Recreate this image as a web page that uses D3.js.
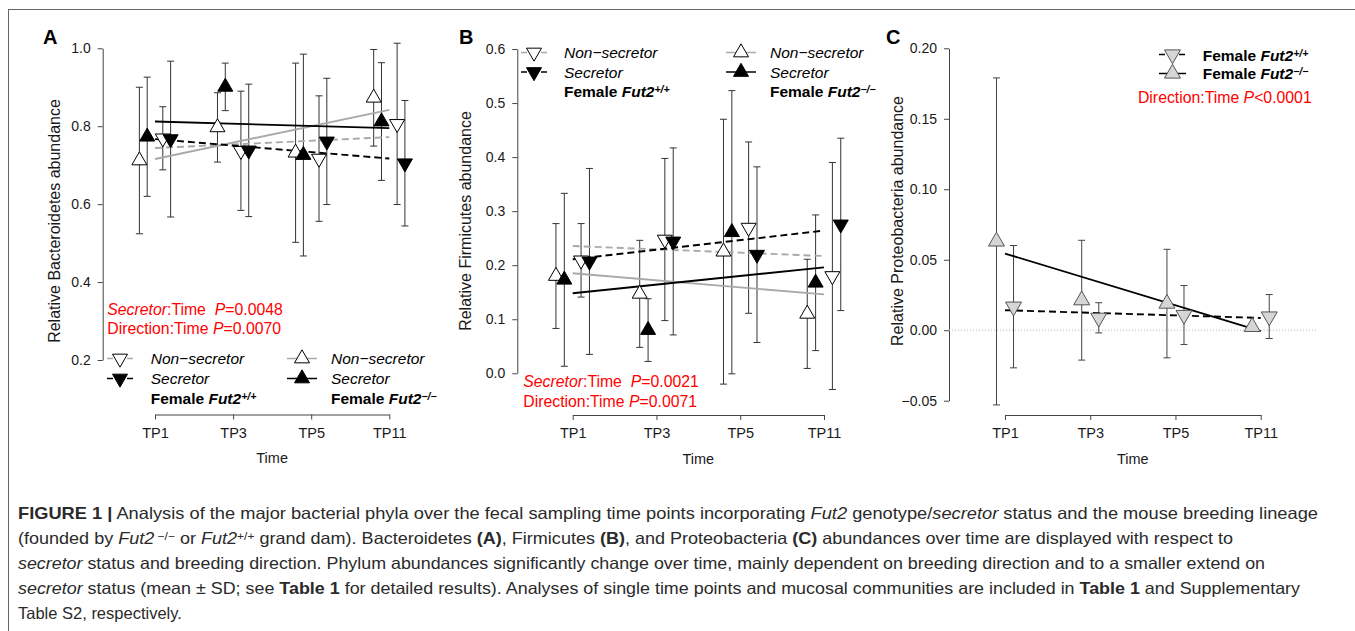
<!DOCTYPE html>
<html><head><meta charset="utf-8">
<script src="https://cdn.jsdelivr.net/npm/d3@7"></script>
<style>
body{margin:0;background:#fff}
svg{display:block}
text{font-family:"Liberation Sans",Arial,Helvetica,sans-serif;white-space:pre}
</style>
</head><body>
<svg id="chart" width="1355" height="631"></svg>
<script>
// ---------------- DATA ----------------
const timePoints = ["TP1", "TP3", "TP5", "TP11"];

// Panel A – Bacteroidetes (mean, SD)
const bactTicks = [0.2, 0.4, 0.6, 0.8, 1.0];
const bactNonSecWT_mean = [0.769, 0.737, 0.717, 0.806];
const bactNonSecWT_sd   = [0.081, 0.153, 0.161, 0.207];
const bactSecWT_mean    = [0.767, 0.738, 0.761, 0.705];
const bactSecWT_sd      = [0.200, 0.170, 0.162, 0.161];
const bactNonSecKO_mean = [0.712, 0.797, 0.732, 0.873];
const bactNonSecKO_sd   = [0.188, 0.089, 0.230, 0.124];
const bactSecKO_mean    = [0.773, 0.901, 0.726, 0.812];
const bactSecKO_sd      = [0.153, 0.061, 0.259, 0.151];
// fitted trends: value at TP1, value at TP11
const bactFitNonSecWT = [0.744, 0.772];
const bactFitSecWT    = [0.767, 0.717];
const bactFitNonSecKO = [0.716, 0.842];
const bactFitSecKO    = [0.812, 0.795];

// Panel B – Firmicutes
const firmTicks = [0.0, 0.1, 0.2, 0.3, 0.4, 0.5, 0.6];
const firmNonSecWT_mean = [0.209, 0.2475, 0.2695, 0.180];
const firmNonSecWT_sd   = [0.068, 0.150, 0.1585, 0.210];
const firmSecWT_mean    = [0.207, 0.244, 0.2195, 0.2755];
const firmSecWT_sd      = [0.172, 0.173, 0.1625, 0.1595];
const firmNonSecKO_mean = [0.180, 0.147, 0.225, 0.110];
const firmNonSecKO_sd   = [0.097, 0.099, 0.245, 0.101];
const firmSecKO_mean    = [0.173, 0.080, 0.261, 0.1675];
const firmSecKO_sd      = [0.160, 0.058, 0.262, 0.1255];
const firmFitNonSecWT = [0.2355, 0.217];
const firmFitSecWT    = [0.211, 0.264];
const firmFitNonSecKO = [0.185, 0.146];
const firmFitSecKO    = [0.148, 0.196];

// Panel C – Proteobacteria
const protTicks = [-0.05, 0.00, 0.05, 0.10, 0.15, 0.20];
const protWT_mean = [0.0167, 0.0088, 0.0108, 0.0097];
const protWT_sd   = [0.0434, 0.0107, 0.0209, 0.0156];
const protKO_mean = [0.0630, 0.0213, 0.0189, 0.0024];
const protKO_sd   = [0.1160, 0.0425, 0.0385, 0.0];
const protFitWT = [0.0142, 0.0087];
const protFitKO = [0.0544, -0.0007];

// ---------------- DRAWING ----------------
const svg = d3.select("#chart");
const RED = "#ff0000";
const GRAY_LINE = "#a9a9a9";

// frame
svg.append("rect").attr("x", 8.5).attr("y", 9.5).attr("width", 1400).attr("height", 700)
  .attr("fill", "none").attr("stroke", "#666").attr("stroke-width", 1);

function triPath(width) {
  return d3.symbol(d3.symbolTriangle, Math.sqrt(3) * width * width / 4)();
}

function addRichText(sel, parts) {
  parts.forEach(p => {
    const t = sel.append("tspan").text(p.t);
    if (p.i) t.attr("font-style", "italic");
    if (p.b) t.attr("font-weight", "bold");
    if (p.sup) t.attr("baseline-shift", p.supShift || "40%").attr("font-size", p.sup);
  });
  return sel;
}

function drawPanel(cfg) {
  const g = svg.append("g");
  const x = d3.scalePoint().domain(timePoints).range([cfg.x0, cfg.x1]);
  const step = x.step();
  const y = d3.scaleLinear().domain(cfg.yDomain).range([cfg.yBottom, cfg.yTop]);

  // y axis
  const ya = g.append("g").attr("transform", `translate(${cfg.axisX},0)`)
    .call(d3.axisLeft(y).tickValues(cfg.ticks).tickFormat(d3.format(cfg.fmt))
      .tickSize(5).tickSizeOuter(0).tickPadding(7));
  ya.attr("font-family", null).attr("font-size", null);
  ya.selectAll("text").attr("font-size", 14).attr("fill", "#1a1a1a");
  ya.selectAll("path,line").attr("stroke", "#444");

  // x axis
  const xa = g.append("g").attr("transform", `translate(0,${cfg.axisY})`)
    .call(d3.axisBottom(x).tickSize(5).tickSizeOuter(0).tickPadding(8));
  xa.attr("font-family", null).attr("font-size", null);
  xa.selectAll("text").attr("font-size", 14.5).attr("fill", "#1a1a1a");
  xa.selectAll("path,line").attr("stroke", "#444");

  // axis titles
  g.append("text").attr("x", (cfg.x0 + cfg.x1) / 2).attr("y", cfg.axisY + 48.5)
    .attr("text-anchor", "middle").attr("font-size", 14.5).attr("fill", "#1a1a1a").text("Time");
  g.append("text").attr("transform", `translate(${cfg.ylabX},221) rotate(-90)`)
    .attr("text-anchor", "middle").attr("font-size", 16).attr("fill", "#1a1a1a").text(cfg.ylab);

  // panel letter
  g.append("text").attr("x", cfg.letterX).attr("y", 43.5).attr("font-size", 20)
    .attr("font-weight", "bold").attr("fill", "#000").text(cfg.letter);

  // zero reference line
  if (cfg.zeroLine) {
    g.append("line").attr("x1", cfg.axisX).attr("x2", cfg.zeroLineEnd)
      .attr("y1", y(0)).attr("y2", y(0))
      .attr("stroke", "#bbb").attr("stroke-width", 1).attr("stroke-dasharray", "1,2");
  }

  // error bars
  cfg.series.forEach(s => {
    s.mean.forEach((m, i) => {
      const sd = s.sd[i];
      if (sd <= 0) return;
      const cx = x(timePoints[i]) + s.off * step;
      const yt = y(m + sd), yb = y(m - sd);
      const eg = g.append("g").attr("stroke", cfg.errColor).attr("stroke-width", 1);
      eg.append("line").attr("x1", cx).attr("x2", cx).attr("y1", yt).attr("y2", yb);
      eg.append("line").attr("x1", cx - 3.5).attr("x2", cx + 3.5).attr("y1", yt).attr("y2", yt);
      eg.append("line").attr("x1", cx - 3.5).attr("x2", cx + 3.5).attr("y1", yb).attr("y2", yb);
    });
  });

  // fitted trend lines
  cfg.series.forEach(s => {
    g.append("line")
      .attr("x1", x(timePoints[0])).attr("x2", x(timePoints[timePoints.length - 1]))
      .attr("y1", y(s.fit[0])).attr("y2", y(s.fit[1]))
      .attr("stroke", s.lineColor).attr("stroke-width", 1.9)
      .attr("stroke-dasharray", s.dash ? "7,4" : null);
  });

  // markers
  cfg.series.forEach(s => {
    s.mean.forEach((m, i) => {
      const cx = x(timePoints[i]) + s.off * step;
      g.append("path").attr("d", triPath(cfg.markerW))
        .attr("transform", `translate(${cx},${y(m)})${s.down ? " rotate(180)" : ""}`)
        .attr("fill", s.fill).attr("stroke", s.stroke).attr("stroke-width", 1);
    });
  });
  return g;
}

function legendItem(g, xa, xb, yc, s, w) {
  g.append("line").attr("x1", xa).attr("x2", xb).attr("y1", yc).attr("y2", yc)
    .attr("stroke", s.lineColor).attr("stroke-width", 1.5)
    .attr("stroke-dasharray", s.dash ? "6,4" : null);
  g.append("path").attr("d", triPath(w))
    .attr("transform", `translate(${(xa + xb) / 2},${yc})${s.down ? " rotate(180)" : ""}`)
    .attr("fill", s.fill).attr("stroke", s.stroke).attr("stroke-width", 1);
}

function legendText(g, x, yb, parts, size, anchor) {
  const t = g.append("text").attr("x", x).attr("y", yb).attr("font-size", size)
    .attr("fill", "#000").attr("text-anchor", anchor || "start");
  addRichText(t, parts);
  return t;
}

// series style definitions
const sNonSecWT = { down: true, fill: "#fff", stroke: "#000", lineColor: GRAY_LINE, dash: true, off: 0.1 };
const sSecWT    = { down: true, fill: "#000", stroke: "#000", lineColor: "#000", dash: true, off: 0.2 };
const sNonSecKO = { down: false, fill: "#fff", stroke: "#000", lineColor: GRAY_LINE, dash: false, off: -0.2 };
const sSecKO    = { down: false, fill: "#000", stroke: "#000", lineColor: "#000", dash: false, off: -0.1 };

// ---- Panel A ----
const gA = drawPanel({
  letter: "A", letterX: 43, x0: 155, x1: 389.3, axisX: 102.7, axisY: 414.5,
  yDomain: [0.2, 1.0], yBottom: 360, yTop: 48.3, ticks: bactTicks, fmt: ".1f",
  ylab: "Relative Bacteroidetes abundance", ylabX: 59.5, errColor: "#333", markerW: 15,
  series: [
    Object.assign({ mean: bactNonSecKO_mean, sd: bactNonSecKO_sd, fit: bactFitNonSecKO }, sNonSecKO),
    Object.assign({ mean: bactSecKO_mean, sd: bactSecKO_sd, fit: bactFitSecKO }, sSecKO),
    Object.assign({ mean: bactNonSecWT_mean, sd: bactNonSecWT_sd, fit: bactFitNonSecWT }, sNonSecWT),
    Object.assign({ mean: bactSecWT_mean, sd: bactSecWT_sd, fit: bactFitSecWT }, sSecWT)
  ]
});

// ---- Panel B ----
const gB = drawPanel({
  letter: "B", letterX: 459, x0: 572.7, x1: 824, axisX: 517.3, axisY: 415,
  yDomain: [0, 0.6], yBottom: 373.3, yTop: 49, ticks: firmTicks, fmt: ".1f",
  ylab: "Relative Firmicutes abundance", ylabX: 471, errColor: "#333", markerW: 15,
  series: [
    Object.assign({ mean: firmNonSecKO_mean, sd: firmNonSecKO_sd, fit: firmFitNonSecKO }, sNonSecKO),
    Object.assign({ mean: firmSecKO_mean, sd: firmSecKO_sd, fit: firmFitSecKO }, sSecKO),
    Object.assign({ mean: firmNonSecWT_mean, sd: firmNonSecWT_sd, fit: firmFitNonSecWT }, sNonSecWT),
    Object.assign({ mean: firmSecWT_mean, sd: firmSecWT_sd, fit: firmFitSecWT }, sSecWT)
  ]
});

// ---- Panel C ----
const sProtWT = { down: true, fill: "#d6d6d6", stroke: "#555", lineColor: "#000", dash: true, off: 0.1 };
const sProtKO = { down: false, fill: "#d6d6d6", stroke: "#555", lineColor: "#000", dash: false, off: -0.1 };
const gC = drawPanel({
  letter: "C", letterX: 886, x0: 1005, x1: 1260.7, axisX: 949, axisY: 415,
  yDomain: [-0.05, 0.20], yBottom: 400.7, yTop: 48.3, ticks: protTicks, fmt: ".2f",
  ylab: "Relative Proteobacteria abundance", ylabX: 903, errColor: "#444", markerW: 16,
  zeroLine: true, zeroLineEnd: 1317,
  series: [
    Object.assign({ mean: protKO_mean, sd: protKO_sd, fit: protFitKO }, sProtKO),
    Object.assign({ mean: protWT_mean, sd: protWT_sd, fit: protFitWT }, sProtWT)
  ]
});

// ---- Legends ----
const LEG = 15.5, REDS = 15.8;
const femWT = [{ t: "Female ", b: 1 }, { t: "Fut2", b: 1, i: 1 }, { t: "+/+", b: 1, i: 1, sup: 10.5 }];
const femKO = [{ t: "Female ", b: 1 }, { t: "Fut2", b: 1, i: 1 }, { t: "\u2212/\u2212", b: 1, i: 1, sup: 10.5 }];

// A legend
legendItem(gA, 107, 133, 358.5, sNonSecWT, 15);
legendItem(gA, 107, 133, 378.5, sSecWT, 15);
legendText(gA, 150.7, 364, [{ t: "Non\u2212secretor", i: 1 }], LEG);
legendText(gA, 150.7, 384, [{ t: "Secretor", i: 1 }], LEG);
legendText(gA, 150.7, 403.5, femWT, LEG);
legendItem(gA, 287, 317, 358.5, sNonSecKO, 15);
legendItem(gA, 287, 317, 378.5, sSecKO, 15);
legendText(gA, 331, 364, [{ t: "Non\u2212secretor", i: 1 }], LEG);
legendText(gA, 331, 384, [{ t: "Secretor", i: 1 }], LEG);
legendText(gA, 331, 403.5, femKO, LEG);
legendText(gA, 107.3, 315, [{ t: "Secretor", i: 1 }, { t: ":Time  " }, { t: "P", i: 1 }, { t: "=0.0048" }], REDS).attr("fill", RED);
legendText(gA, 107.3, 334, [{ t: "Direction:Time " }, { t: "P", i: 1 }, { t: "=0.0070" }], REDS).attr("fill", RED);

// B legend
legendItem(gB, 521, 547, 52.5, sNonSecWT, 15);
legendItem(gB, 521, 547, 72, sSecWT, 15);
legendText(gB, 564, 58.3, [{ t: "Non\u2212secretor", i: 1 }], LEG);
legendText(gB, 564, 77.5, [{ t: "Secretor", i: 1 }], LEG);
legendText(gB, 564, 97.3, femWT, LEG);
legendItem(gB, 726, 756, 52.5, sNonSecKO, 15);
legendItem(gB, 726, 756, 72, sSecKO, 15);
legendText(gB, 770, 58.3, [{ t: "Non\u2212secretor", i: 1 }], LEG);
legendText(gB, 770, 77.5, [{ t: "Secretor", i: 1 }], LEG);
legendText(gB, 770, 97.3, femKO, LEG);
legendText(gB, 523.3, 386.7, [{ t: "Secretor", i: 1 }, { t: ":Time  " }, { t: "P", i: 1 }, { t: "=0.0021" }], REDS).attr("fill", RED);
legendText(gB, 523.3, 406.7, [{ t: "Direction:Time " }, { t: "P", i: 1 }, { t: "=0.0071" }], REDS).attr("fill", RED);

// C legend
legendItem(gC, 1159, 1186, 54.5, sProtWT, 16);
legendItem(gC, 1159, 1186, 73.5, sProtKO, 16);
legendText(gC, 1202.7, 60.7, femWT, LEG);
legendText(gC, 1202.7, 79.3, femKO, LEG);
legendText(gC, 1311.7, 102.5, [{ t: "Direction:Time " }, { t: "P", i: 1 }, { t: "<0.0001" }], REDS, "end").attr("fill", RED);

// ---- Caption ----
const captionLines = [
  { y: 518.5, w: 1300, parts: [{ t: "FIGURE 1 |", b: 1 }, { t: " Analysis of the major bacterial phyla over the fecal sampling time points incorporating " }, { t: "Fut2", i: 1 }, { t: " genotype/" }, { t: "secretor", i: 1 }, { t: " status and the mouse breeding lineage" }] },
  { y: 543.5, w: 1215, parts: [{ t: "(founded by " }, { t: "Fut2", i: 1 }, { t: " \u2212/\u2212", sup: 11 }, { t: " or " }, { t: "Fut2", i: 1 }, { t: "+/+", sup: 11 }, { t: " grand dam). Bacteroidetes " }, { t: "(A)", b: 1 }, { t: ", Firmicutes " }, { t: "(B)", b: 1 }, { t: ", and Proteobacteria " }, { t: "(C)", b: 1 }, { t: " abundances over time are displayed with respect to" }] },
  { y: 568.5, w: 1247, parts: [{ t: "secretor", i: 1 }, { t: " status and breeding direction. Phylum abundances significantly change over time, mainly dependent on breeding direction and to a smaller extend on" }] },
  { y: 593.5, w: 1282, parts: [{ t: "secretor", i: 1 }, { t: " status (mean \u00b1 SD; see " }, { t: "Table 1", b: 1 }, { t: " for detailed results). Analyses of single time points and mucosal communities are included in " }, { t: "Table 1", b: 1 }, { t: " and Supplementary" }] },
  { y: 618.5, w: 0, parts: [{ t: "Table S2, respectively." }] }
];
captionLines.forEach(l => {
  const t = svg.append("text").attr("x", 18).attr("y", l.y).attr("font-size", 16.5).attr("fill", "#2a2a2a");
  addRichText(t, l.parts);
  if (l.w) t.attr("textLength", l.w).attr("lengthAdjust", "spacingAndGlyphs");
});
</script>
</body></html>
